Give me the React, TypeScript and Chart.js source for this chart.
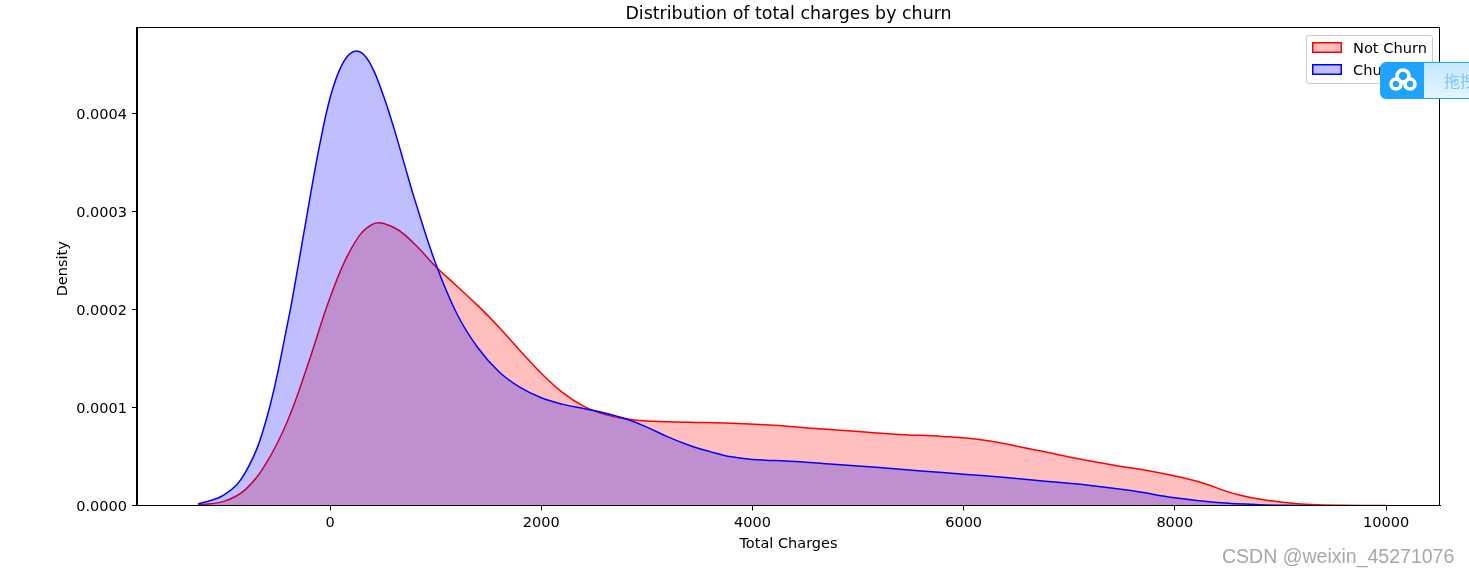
import React, { useEffect, useRef } from "react";
import { Chart, registerables } from "chart.js";

Chart.register(...registerables);

const chartTitle = "Distribution of total charges by churn";
const xAxisTitle = "Total Charges";
const yAxisTitle = "Density ";
const notChurnLabel = "Not Churn";
const churnLabel = "Churn";
const watermark = "CSDN @weixin_45271076";
const widgetText = "拖拽上传";

const xTickValues = [0, 2000, 4000, 6000, 8000, 10000];
const yTickValues = [0, 0.0001, 0.0002, 0.0003, 0.0004];

const notChurnX = [-1250, -1000, -800, -600, -400, -200, 0, 200, 400, 600, 800, 1000, 1200, 1400, 1600, 1800, 2000, 2200, 2400, 2600, 2800, 3000, 3400, 3800, 4200, 4600, 5000, 5400, 5800, 6200, 6600, 7000, 7400, 7800, 8200, 8600, 9000, 9400, 10000];
const notChurnY = [0.005, 0.045, 0.165, 0.44, 0.87, 1.47, 2.12, 2.62, 2.87, 2.84, 2.67, 2.44, 2.24, 2.04, 1.82, 1.58, 1.35, 1.155, 1.015, 0.93, 0.885, 0.862, 0.85, 0.84, 0.82, 0.785, 0.755, 0.725, 0.705, 0.665, 0.585, 0.495, 0.415, 0.345, 0.25, 0.11, 0.035, 0.004, 0.0002];

const churnX = [-1250, -1000, -800, -600, -400, -300, -200, -100, 0, 100, 200, 300, 400, 500, 600, 700, 800, 1000, 1200, 1400, 1600, 1800, 2000, 2200, 2400, 2600, 2800, 3000, 3200, 3400, 3600, 3800, 4000, 4400, 4800, 5200, 5600, 6000, 6400, 6800, 7200, 7600, 8000, 8400, 8800, 9200];
const churnY = [0.015, 0.11, 0.34, 0.89, 1.87, 2.46, 3.08, 3.67, 4.16, 4.47, 4.62, 4.62, 4.47, 4.2, 3.87, 3.5, 3.13, 2.47, 1.96, 1.61, 1.365, 1.205, 1.1, 1.035, 0.99, 0.945, 0.885, 0.8, 0.7, 0.615, 0.55, 0.497, 0.47, 0.45, 0.418, 0.387, 0.352, 0.32, 0.285, 0.245, 0.205, 0.15, 0.078, 0.03, 0.008, 0.001];

const densityUnit = 1e-4;
const toPoints = (xs: number[], ys: number[]) => xs.map((x, i) => ({ x, y: ys[i] * densityUnit }));
const setTicks = (values: number[]) => (s: any) => { s.ticks = values.map((value) => ({ value })); };

const FONT = "'DejaVu Sans'";

const frame = {
  id: "frame",
  afterDraw(chart: any) {
    const { ctx, chartArea: a } = chart;
    ctx.save();
    ctx.strokeStyle = "#000";
    ctx.lineWidth = 1;
    ctx.strokeRect(Math.round(a.left) - 0.5, Math.round(a.top) + 0.5, Math.round(a.right - a.left), Math.round(a.bottom - a.top));
    ctx.restore();
  },
};

function Swatch({ color, fill }: { color: string; fill: string }) {
  return <span style={{ display: "inline-block", width: 30, height: 11, boxShadow: `inset 0 0 0 1.5px ${color}`, background: fill }} />;
}

export default function App() {
  const ref = useRef<HTMLCanvasElement>(null);
  useEffect(() => {
    const chart = new Chart(ref.current as HTMLCanvasElement, {
      type: "line",
      data: {
        datasets: [
          {
            label: notChurnLabel,
            data: toPoints(notChurnX, notChurnY),
            borderColor: "#ff0000",
            backgroundColor: "rgba(255,0,0,0.25)",
            borderWidth: 1.5,
            fill: "origin",
            pointRadius: 0,
            tension: 0.4,
            order: 2,
          },
          {
            label: churnLabel,
            data: toPoints(churnX, churnY),
            borderColor: "#0000ff",
            backgroundColor: "rgba(0,0,255,0.25)",
            borderWidth: 1.5,
            fill: "origin",
            pointRadius: 0,
            tension: 0.4,
            order: 1,
          },
        ],
      },
      options: {
        animation: false,
        responsive: false,
        layout: { padding: { left: 0, right: 29, top: 0, bottom: 0 } },
        plugins: {
          legend: { display: false },
          tooltip: { enabled: false },
          title: {
            display: true,
            text: chartTitle,
            fullSize: false,
            color: "#000",
            font: { family: FONT, size: 17.45, weight: "normal", lineHeight: 1.2 },
            padding: { top: 4, bottom: 2.5 },
          },
        },
        scales: {
          x: {
            type: "linear",
            min: -1828,
            max: 10511,
            afterBuildTicks: setTicks(xTickValues),
            afterFit: (s: any) => { s.height = 69.5; },
            grid: { drawOnChartArea: false, color: "#000", tickColor: "#000", tickLength: 5 },
            border: { color: "#000" },
            ticks: { color: "#000", maxRotation: 0, padding: 4, autoSkip: false, font: { family: FONT, size: 14.5 }, callback: (v: any) => String(v) },
            title: { display: true, text: xAxisTitle, color: "#000", font: { family: FONT, size: 14.5 }, padding: { top: 0, bottom: 22 } },
          },
          y: {
            min: 0,
            max: 0.000488,
            afterBuildTicks: setTicks(yTickValues),
            afterFit: (s: any) => { s.width = 137; },
            grid: { drawOnChartArea: false, color: "#000", tickColor: "#000", tickLength: 5 },
            border: { color: "#000" },
            ticks: { color: "#000", padding: 5, labelOffset: 1.5, autoSkip: false, font: { family: FONT, size: 14.5 }, callback: (v: any) => Number(v).toFixed(4) },
            title: { display: true, text: yAxisTitle, color: "#000", font: { family: FONT, size: 14.5 }, padding: { top: 55, bottom: 0 } },
          },
        },
      },
      plugins: [frame],
    } as any);
    return () => chart.destroy();
  }, []);

  const legendText: React.CSSProperties = { font: `14.6px ${FONT}`, color: "#000", position: "absolute", left: 46, lineHeight: "16px", whiteSpace: "nowrap" };

  return (
    <div style={{ position: "absolute", left: 0, top: 0, width: 1469, height: 575, overflow: "hidden", background: "#fff" }}>
      <canvas ref={ref} width={1469} height={575} style={{ display: "block" }} />
      <div style={{ position: "absolute", left: 1306, top: 35, width: 127, height: 49, boxSizing: "border-box", background: "rgba(255,255,255,0.8)", border: "1px solid #ccc", borderRadius: 3 }}>
        <span style={{ position: "absolute", left: 5, top: 6, lineHeight: 0 }}><Swatch color="#ff0000" fill="rgba(255,0,0,0.25)" /></span>
        <span style={{ ...legendText, top: 4 }}>{notChurnLabel}</span>
        <span style={{ position: "absolute", left: 5, top: 28, lineHeight: 0 }}><Swatch color="#0000ff" fill="rgba(0,0,255,0.25)" /></span>
        <span style={{ ...legendText, top: 26 }}>{churnLabel}</span>
      </div>
      <div style={{ position: "absolute", left: 1380, top: 62, width: 100, height: 37, borderRadius: 6, overflow: "hidden", background: "#1fa3ff" }}>
        <svg width={44} height={37} style={{ position: "absolute", left: 0, top: 0 }}>
          <g fill="none" stroke="#fff" strokeWidth={3.6}>
            <circle cx={23} cy={14} r={6} />
            <circle cx={16} cy={22} r={5} />
            <circle cx={30} cy={22} r={5} />
          </g>
        </svg>
        <div style={{ position: "absolute", left: 44, top: 1, width: 56, height: 35, background: "linear-gradient(#c6e8ff,#e2f4ff)", whiteSpace: "nowrap", overflow: "hidden" }}>
          <span style={{ position: "absolute", left: 20, top: 7, font: "16px 'Noto Sans CJK SC'", lineHeight: "20px", color: "#7cc6f8" }}>{widgetText}</span>
        </div>
      </div>
      <div style={{ position: "absolute", left: 1222, top: 544, font: "19.5px 'Liberation Sans'", lineHeight: "24px", color: "#a8a8a8", textShadow: "1px 1px 0 #fff", whiteSpace: "nowrap" }}>{watermark}</div>
    </div>
  );
}
